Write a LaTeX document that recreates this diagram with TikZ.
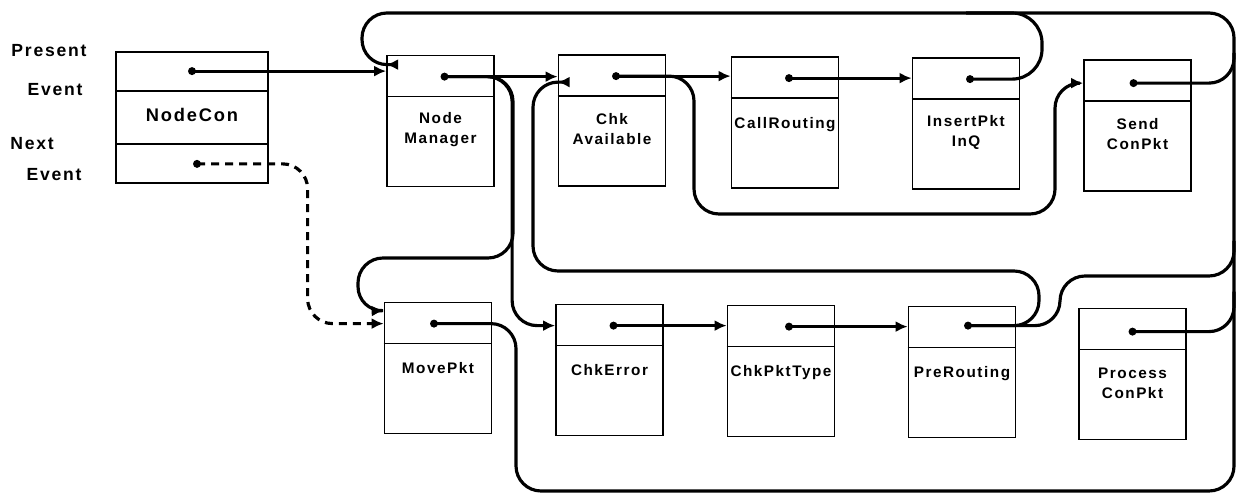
\documentclass[tikz,border=0pt]{standalone}
\usepackage{fontspec}
\setmainfont{Liberation Sans}
\newfontfamily\evfont[LetterSpace=10]{Liberation Sans}
\usepackage{tikz}
\usetikzlibrary{calc}
\usetikzlibrary{arrows.meta}

\begin{document}
\begin{tikzpicture}[x=1mm, y=1mm, >={Latex[length=1.2mm, width=1.1mm]},
    evbox/.style={draw, line width=0.5pt, minimum width=10.7mm, minimum height=13.1mm,
      inner sep=0pt, text width=10.5mm, align=center,
      font=\evfont\bfseries\fontsize{4.35}{5.7}\selectfont,
      execute at end node={\endgraf\vspace*{-1.8mm}},
      append after command={([yshift=-4.2mm]\tikzlastnode.north west) edge[line width=0.5pt] ([yshift=-4.2mm]\tikzlastnode.north east)}},
    conbox/.style={draw, line width=0.5pt, minimum width=15.2mm, minimum height=13.1mm,
      inner sep=0pt, font=\evfont\bfseries\fontsize{5.2}{6}\selectfont,
      append after command={([yshift=-4.0mm]\tikzlastnode.north west) edge[line width=0.5pt] ([yshift=-4.0mm]\tikzlastnode.north east)
        ([yshift=4.0mm]\tikzlastnode.south west) edge[line width=0.5pt] ([yshift=4.0mm]\tikzlastnode.south east)}},
    evlabel/.style={font=\evfont\bfseries\fontsize{5}{6}\selectfont, inner sep=0pt},
    link/.style={line width=0.9pt, rounded corners=2.5mm}]

  \useasboundingbox (0,0) rectangle (123.7,50.3);

  \node[evlabel] (present) at (4.9,45.2) {Present};
  \node[evlabel] (event1) at (5.5,41.3) {Event};
  \node[evlabel] (next) at (3.2,35.95) {Next};
  \node[evlabel] (event2) at (5.4,32.8) {Event};

  \node[conbox] (con) at (19.2,38.55) {\raisebox{0.5mm}{NodeCon}};

  \node[evbox] (mgr) at (44.05,38.2) {Node\\Manager};
  \node[evbox] (avail) at (61.2,38.25) {Chk\\Available};
  \node[evbox] (route) at (78.5,38.05) {CallRouting};
  \node[evbox] (insert) at (96.6,37.95) {InsertPkt\\InQ};
  \node[evbox] (send) at (113.75,37.75) {Send\\ConPkt};
  \node[evbox] (move) at (43.8,13.5) {MovePkt};
  \node[evbox] (error) at (60.95,13.3) {ChkError};
  \node[evbox] (ptype) at (78.1,13.2) {ChkPktType};
  \node[evbox] (prer) at (96.2,13.1) {PreRouting};
  \node[evbox] (proc) at (113.25,12.9) {Process\\ConPkt};

  \coordinate (con-p) at ($(con.north)+(0,-2.0)$);
  \coordinate (con-n) at ($(con.south)+(0.5,2.0)$);
  \coordinate (mgr-p) at ($(mgr.north)+(0.4,-2.2)$);
  \coordinate (avail-p) at ($(avail.north)+(0.4,-2.2)$);
  \coordinate (route-p) at ($(route.north)+(0.4,-2.2)$);
  \coordinate (insert-p) at ($(insert.north)+(0.4,-2.2)$);
  \coordinate (send-p) at ($(send.north)+(-0.4,-2.4)$);
  \coordinate (move-p) at ($(move.north)+(-0.4,-2.2)$);
  \coordinate (error-p) at ($(error.north)+(0.4,-2.2)$);
  \coordinate (ptype-p) at ($(ptype.north)+(0.8,-2.2)$);
  \coordinate (prer-p) at ($(prer.north)+(0.6,-2.0)$);
  \coordinate (proc-p) at ($(proc.north)+(0,-2.4)$);

  % return line back to the manager
  \coordinate (bus-sw) at (51.6,1.2);
  \coordinate (bus-se) at (123.4,1.2);
  \coordinate (bus-ne) at (123.4,49.0);
  \coordinate (bus-nw) at (36.2,49.0);

  \foreach \p in {con-p,con-n,mgr-p,avail-p,route-p,insert-p,send-p,move-p,error-p,ptype-p,prer-p,proc-p}
    \fill (\p) circle[radius=0.4];

  \draw[link, ->] (con-p) -- (con-p -| mgr.west);
  \draw[link, ->, dash pattern=on 0.8mm off 0.6mm] (con-n) -| ($(move.west |- move-p)+(-7.6,0)$) -- (move.west |- move-p);

  \draw[link, ->] (mgr-p) -- (mgr-p -| avail.west);
  \draw[link, ->] (mgr-p) -| ($(error.west |- error-p)+(-4.3,0)$) -- (error.west |- error-p);
  \draw[link, ->] (mgr-p) -| (51.3,24.5) -| (35.8,19.15) -- ([yshift=-0.9mm]move.north west);

  \draw[link, ->] (move-p) -| (bus-sw) -- (bus-se) -- (bus-ne) -- (bus-nw) |- ([yshift=-1mm]mgr.north west);
  \draw[link, rounded corners=3mm] (insert-p) -- ++(7.2,0) |- (insert.north |- bus-ne);
  \draw[link] (send-p) -| ($(bus-ne)+(0,-4)$);
  \draw[link] (proc-p) -| ($(bus-se |- proc-p)+(0,4)$);
  \draw[link] (prer-p) -| (106,22.7) -| ($(bus-se)+(0,25)$);

  \draw[link, ->] (prer-p) -- ++(7.1,0) |- (53.3,23.2) |- ([yshift=-2.8mm]avail.north west);
  \draw[link, ->] (avail-p) -- ++(7.8,0) |- (105.5,28.9) |- ([yshift=-2.4mm]send.north west);

  \draw[link, ->] (avail-p) -- (avail-p -| route.west);
  \draw[link, ->] (route-p) -- (route-p -| insert.west);
  \draw[link, ->] (error-p) -- (error-p -| ptype.west);
  \draw[link, ->] (ptype-p) -- (ptype-p -| prer.west);

\end{tikzpicture}
\end{document}
